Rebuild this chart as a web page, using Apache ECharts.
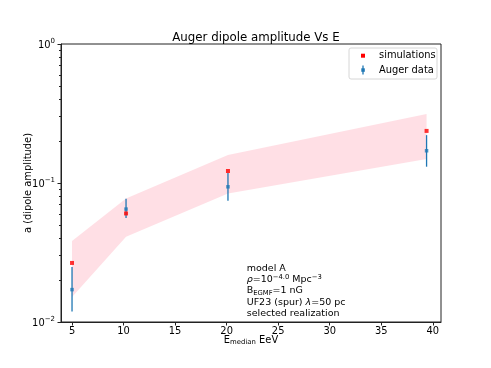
<!DOCTYPE html>
<html>
<head>
<meta charset="utf-8">
<script src="https://cdn.jsdelivr.net/npm/echarts@6/dist/echarts.min.js"></script>
<style>
  html, body { margin: 0; padding: 0; background: #fff; }
  #chart { width: 491px; height: 368px; }
</style>
</head>
<body>
<div id="chart"></div>
<script>
// median energies of the 4 Auger bins (EeV)
const energies = [5.0, 10.24, 20.13, 39.4];
// simulated dipole amplitude (selected realization)
const simValues = [0.0266, 0.0604, 0.122, 0.237];
// Auger measured amplitude with error range
const augerValues = [0.0171, 0.0649, 0.0939, 0.1706];
const augerLow = [0.0119, 0.0561, 0.0744, 0.131];
const augerHigh = [0.0249, 0.0769, 0.118, 0.221];
// pink band (spread of realizations)
const bandLow = [0.0151, 0.041, 0.0841, 0.1486];
const bandHigh = [0.0383, 0.0774, 0.159, 0.313];
// ticks
const xTicks = [5, 10, 15, 20, 25, 30, 35, 40];
const yMajorTicks = [0.01, 0.1, 1];
const yMinorTicks = [0.02, 0.03, 0.04, 0.05, 0.06, 0.07, 0.08, 0.09,
  0.2, 0.3, 0.4, 0.5, 0.6, 0.7, 0.8, 0.9];

const FONT = "DejaVu Sans";
const FS = 9.9;
const FS_ANN = 9.5;
const BLUE = "#1f77b4";

const chart = echarts.init(document.getElementById("chart"), null, { renderer: "canvas" });

const supRich = {
  b: { fontFamily: FONT, fontSize: FS, color: "#000", verticalAlign: "bottom", lineHeight: 12 },
  s: { fontFamily: FONT, fontSize: 7, color: "#000", verticalAlign: "top", lineHeight: 12 }
};

function expLabel(v) {
  const e = Math.round(Math.log10(v));
  return "{b|10}{s|" + (e < 0 ? "\u2212" + (-e) : e) + "}";
}

const textLines = [
  { y: 268.3, text: "{n|model A}" },
  { y: 280, text: "{i|\u03c1}{n|=10}{s|\u22124.0}{n| Mpc}{s|\u22123}" },
  { y: 291, text: "{n|B}{d|EGMF}{n|=1 nG}" },
  { y: 302.3, text: "{n|UF23 (spur) }{i|\u03bb}{n|=50 pc}" },
  { y: 313.3, text: "{n|selected realization}" }
];
const annRich = {
  n: { fontFamily: FONT, fontSize: FS_ANN, color: "#000", lineHeight: 12, verticalAlign: "middle" },
  i: { fontFamily: FONT, fontSize: FS_ANN, fontStyle: "italic", color: "#000", lineHeight: 12, verticalAlign: "middle" },
  s: { fontFamily: FONT, fontSize: 6.8, color: "#000", lineHeight: 12, verticalAlign: "top" },
  d: { fontFamily: FONT, fontSize: 6.8, color: "#000", lineHeight: 12, verticalAlign: "bottom" }
};

chart.setOption({
  animation: false,
  title: {
    text: "Auger dipole amplitude Vs E",
    left: 251,
    top: 27,
    textAlign: "center",
    textStyle: { fontFamily: FONT, fontSize: 11.8, fontWeight: "normal", color: "#000" }
  },
  grid: {
    left: 61, right: 50, top: 44, bottom: 46,
    show: true, borderColor: "#222", borderWidth: 1, backgroundColor: "transparent"
  },
  xAxis: {
    type: "value",
    min: 3.93,
    max: 40.8,
    splitLine: { show: false },
    axisLine: { lineStyle: { color: "#222", width: 1 } },
    axisTick: { length: 3.5, lineStyle: { color: "#222" }, customValues: xTicks },
    axisLabel: {
      customValues: xTicks,
      fontFamily: FONT, fontSize: FS, color: "#000", margin: 4
    },
    name: "{e|E}{d|median}{e| EeV}",
    nameLocation: "middle",
    nameGap: 12,
    nameMoveOverlap: false,
    nameTextStyle: {
      rich: {
        e: { fontFamily: FONT, fontSize: FS, color: "#000", lineHeight: 12, verticalAlign: "middle" },
        d: { fontFamily: FONT, fontSize: 6.9, color: "#000", lineHeight: 12, verticalAlign: "bottom" }
      }
    }
  },
  yAxis: [
    {
      type: "log",
      logBase: 10,
      min: 0.01,
      max: 1,
      splitLine: { show: false },
      axisLine: { show: true, lineStyle: { color: "#222", width: 1 } },
      axisTick: { length: 3.5, lineStyle: { color: "#222" }, customValues: yMajorTicks },
      axisLabel: {
        customValues: yMajorTicks,
        margin: 6,
        formatter: expLabel,
        rich: supRich
      },
      name: "a (dipole amplitude)",
      nameLocation: "middle",
      nameGap: 28,
      nameMoveOverlap: false,
      nameTextStyle: { fontFamily: FONT, fontSize: FS, color: "#000" }
    },
    {
      type: "log",
      logBase: 10,
      min: 0.01,
      max: 1,
      position: "left",
      splitLine: { show: false },
      axisLine: { show: false },
      axisTick: { length: 2, lineStyle: { color: "#222" }, customValues: yMinorTicks },
      axisLabel: { show: false }
    }
  ],
  series: [
    {
      name: "band",
      type: "custom",
      silent: true,
      z: 1,
      data: energies.map((e, i) => [e, bandLow[i], bandHigh[i]]),
      encode: { x: 0, y: [1, 2] },
      renderItem: function (params, api) {
        if (params.dataIndex !== 0) return null;
        const pts = [];
        energies.forEach((e, i) => pts.push(api.coord([e, bandHigh[i]])));
        for (let i = energies.length - 1; i >= 0; i--) pts.push(api.coord([energies[i], bandLow[i]]));
        return {
          type: "polygon",
          shape: { points: pts },
          style: { fill: "rgba(255,192,203,0.5)", stroke: null }
        };
      }
    },
    {
      name: "errors",
      type: "custom",
      z: 2,
      data: energies.map((e, i) => [e, augerLow[i], augerHigh[i]]),
      encode: { x: 0, y: [1, 2] },
      renderItem: function (params, api) {
        const lo = api.coord([api.value(0), api.value(1)]);
        const hi = api.coord([api.value(0), api.value(2)]);
        return {
          type: "line",
          shape: { x1: lo[0], y1: lo[1], x2: hi[0], y2: hi[1] },
          style: { stroke: BLUE, lineWidth: 1.3 }
        };
      }
    },
    {
      name: "Auger data",
      type: "scatter",
      z: 3,
      symbol: "rect",
      symbolSize: 3.5,
      itemStyle: { color: BLUE },
      data: energies.map((e, i) => [e, augerValues[i]])
    },
    {
      name: "simulations",
      type: "scatter",
      z: 4,
      symbol: "rect",
      symbolSize: 4,
      itemStyle: { color: "#ff0000" },
      data: energies.map((e, i) => [e, simValues[i]])
    }
  ],
  graphic: [
    {
      type: "group",
      children: [
        {
          type: "rect",
          shape: { x: 349, y: 48, width: 88, height: 31, r: 2 },
          style: { fill: "rgba(255,255,255,0.8)", stroke: "#d6d6d6", lineWidth: 1 }
        },
        { type: "rect", shape: { x: 361, y: 53.7, width: 4, height: 4 }, style: { fill: "#ff0000" } },
        {
          type: "text", x: 379, y: 55.7,
          style: { text: "simulations", fontFamily: FONT, fontSize: FS, fill: "#000", verticalAlign: "middle" }
        },
        {
          type: "line", shape: { x1: 363, y1: 65.5, x2: 363, y2: 74.5 },
          style: { stroke: BLUE, lineWidth: 1.3 }
        },
        { type: "rect", shape: { x: 361.3, y: 68.3, width: 3.5, height: 3.5 }, style: { fill: BLUE } },
        {
          type: "text", x: 379, y: 70,
          style: { text: "Auger data", fontFamily: FONT, fontSize: FS, fill: "#000", verticalAlign: "middle" }
        }
      ]
    }
  ].concat(textLines.map(l => ({
    type: "text",
    x: 246.7,
    y: l.y,
    style: { text: l.text, rich: annRich, verticalAlign: "middle" }
  })))
});
</script>
</body>
</html>
